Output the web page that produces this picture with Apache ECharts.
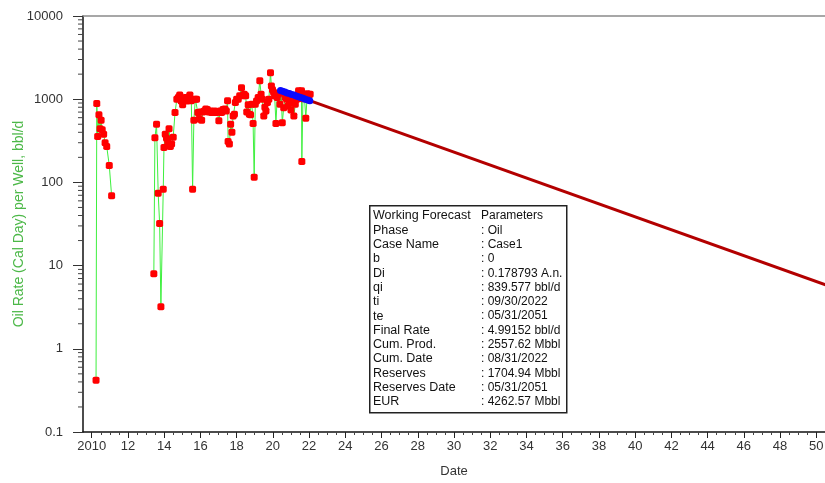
<!DOCTYPE html>
<html>
<head>
<meta charset="utf-8">
<script src="https://cdn.jsdelivr.net/npm/echarts@6/dist/echarts.min.js"></script>
<style>html,body{margin:0;padding:0;background:#fff;}#chart{width:825px;height:483px;}</style>
</head>
<body>
<div id="chart"></div>
<script>
// Historical monthly oil rate (decimal year, bbl/d); null = production gap
var histYears = [
2010.24,2010.28,2010.33,2010.40,2010.46,2010.52,2010.58,2010.66,2010.74,2010.83,2010.97,2011.10,
2012.00,
2013.43,2013.49,2013.58,2013.67,2013.75,2013.82,2013.95,2013.99,2014.06,2014.13,2014.20,2014.27,2014.34,2014.41,2014.50,2014.60,2014.70,2014.78,2014.86,2014.94,2015.02,2015.10,2015.18,2015.26,2015.34,2015.42,2015.50,2015.57,2015.64,2015.72,2015.79,2015.86,2015.94,
2016.00,2016.07,2016.14,2016.22,2016.30,2016.38,2016.46,2016.54,2016.62,2016.70,2016.78,2016.86,2016.94,
2017.02,2017.09,2017.17,2017.25,2017.35,2017.43,2017.50,2017.53,2017.60,2017.67,2017.74,2017.81,2017.88,2017.93,
2018.00,2018.09,2018.17,2018.27,2018.35,2018.42,2018.50,2018.56,2018.64,2018.70,2018.77,2018.84,2018.91,2018.97,
2019.03,2019.10,2019.19,2019.28,2019.35,2019.42,2019.50,2019.56,2019.62,2019.70,2019.78,2019.87,2019.92,2019.98,
2020.04,2020.10,2020.17,2020.24,2020.31,2020.39,2020.46,2020.52,2020.60,2020.68,2020.76,2020.84,2020.92,
2021.00,2021.08,2021.16,2021.24,2021.32,2021.42,2021.58,2021.60,2021.66,2021.74,2021.82,2021.90,2021.98,2022.06
];
var histRates = [
0.42,890,355,650,440,560,430,380,300,270,160,69,
null,
8,345,500,74,32,3.2,83,262,380,340,300,440,270,290,350,690,1000,1050,1120,950,860,1000,1050,950,1000,1120,960,83,560,1000,1000,690,580,
700,560,700,720,760,750,700,720,690,700,720,690,700,
550,720,690,750,760,720,960,310,290,500,400,630,660,910,
1000,1000,1100,1370,1100,1150,1100,700,860,660,650,870,510,115,
870,950,1050,1670,1150,1000,630,800,720,910,1000,2080,1440,1300,
1210,1100,510,1050,1150,870,1200,520,790,1050,1000,830,900,
740,1000,630,870,1000,1260,1260,178,1010,1100,590,1160,1100,1150,1000
];
// Points used in the fit (blue)
var fitYears = [2020.42,2020.54,2020.67,2020.79,2020.92,2021.04,2021.17,2021.29,2021.42,2021.54,2021.67,2021.79,2021.92,2022.04];
var fitRates = [1270,1250,1220,1190,1170,1140,1120,1090,1070,1050,1030,1000,980,960];
// Forecast line (start / end)
var fcYears = [2022.04, 2051.42];
var fcRates = [960, 4.99];

var xTickLabels = [2010,2012,2014,2016,2018,2020,2022,2024,2026,2028,2030,2032,2034,2036,2038,2040,2042,2044,2046,2048,2050];
var xMinorTicks = [2009.5,2010.5,2011,2011.5,2012.5,2013,2013.5,2014.5,2015,2015.5,2016.5,2017,2017.5,2018.5,2019,2019.5,2020.5,2021,2021.5,2022.5,2023,2023.5,2024.5,2025,2025.5,2026.5,2027,2027.5,2028.5,2029,2029.5,2030.5,2031,2031.5,2032.5,2033,2033.5,2034.5,2035,2035.5,2036.5,2037,2037.5,2038.5,2039,2039.5,2040.5,2041,2041.5,2042.5,2043,2043.5,2044.5,2045,2045.5,2046.5,2047,2047.5,2048.5,2049,2049.5,2050.5];
var yTickLabels = [0.1,1,10,100,1000,10000];
var yMinorTicks = [0.2,0.3,0.4,0.5,0.6,0.7,0.8,0.9,2,3,4,5,6,7,8,9,20,30,40,50,60,70,80,90,200,300,400,500,600,700,800,900,2000,3000,4000,5000,6000,7000,8000,9000];

var legendKeys = ['Working Forecast','Phase','Case Name','b','Di','qi','ti','te','Final Rate','Cum. Prod.','Cum. Date','Reserves','Reserves Date','EUR'];
var legendVals = ['Parameters',': Oil',': Case1',': 0',': 0.178793 A.n.',': 839.577 bbl/d',': 09/30/2022',': 05/31/2051',': 4.99152 bbl/d',': 2557.62 Mbbl',': 08/31/2022',': 1704.94 Mbbl',': 05/31/2051',': 4262.57 Mbbl'];

var X_MIN = 2009.52, X_MAX = 2050.48;

function zip(a, b) { var r = []; for (var i = 0; i < a.length; i++) r.push([a[i], b[i] == null ? '-' : b[i]]); return r; }

var FONT = 'Liberation Sans, Arial, sans-serif';
var graphics = [{
  type: 'rect', left: 369, top: 205, z: 100,
  shape: { width: 197, height: 207 },
  style: { fill: '#fff', stroke: '#222', lineWidth: 1.5 }
}];
for (var k = 0; k < legendKeys.length; k++) {
  var yy = 216 + k * 14.3;
  graphics.push({ type: 'text', x: 373, y: yy, z: 101, style: { text: legendKeys[k], fill: '#111', font: '12.5px ' + FONT, textVerticalAlign: 'middle' } });
  graphics.push({ type: 'text', x: 481, y: yy, z: 101, style: { text: legendVals[k], fill: '#111', font: '12px ' + FONT, textVerticalAlign: 'middle' } });
}

var minorData = yMinorTicks.map(function (v) { return [X_MIN, v]; });

var chart = echarts.init(document.getElementById('chart'), null, { renderer: 'canvas' });
chart.setOption({
  animation: false,
  backgroundColor: '#fff',
  grid: { left: 83, top: 16, right: 0, bottom: 51, outerBoundsMode: 'none', containLabel: false },
  xAxis: [{
    type: 'value', min: X_MIN, max: X_MAX,
    name: 'Date', nameLocation: 'middle', nameGap: 33, nameMoveOverlap: false,
    nameTextStyle: { color: '#333', fontSize: 13, fontFamily: FONT },
    axisLine: { onZero: false, lineStyle: { color: '#111', width: 1.5 } },
    axisTick: { customValues: xTickLabels, length: 6, lineStyle: { color: '#222' } },
    axisLabel: { customValues: xTickLabels, margin: 8, color: '#333', fontSize: 13, fontFamily: FONT,
      formatter: function (v) { return v === 2010 ? '2010' : String(Math.round(v) % 100); } },
    splitLine: { show: false }
  }, {
    type: 'value', min: X_MIN, max: X_MAX, position: 'bottom',
    axisLine: { show: false },
    axisTick: { customValues: xMinorTicks, length: 3, lineStyle: { color: '#444' } },
    axisLabel: { show: false }, splitLine: { show: false }
  }, {
    type: 'value', min: X_MIN, max: X_MAX, position: 'top',
    axisLine: { show: true, onZero: false, lineStyle: { color: '#8a8a8a', width: 1.5 } },
    axisTick: { show: false }, axisLabel: { show: false }, splitLine: { show: false }
  }],
  yAxis: [{
    type: 'log', logBase: 10, min: 0.1, max: 10000,
    name: 'Oil Rate (Cal Day) per Well, bbl/d', nameLocation: 'middle', nameGap: 57, nameMoveOverlap: false,
    nameTextStyle: { color: '#4cb848', fontSize: 14, fontFamily: FONT },
    axisLine: { show: true, lineStyle: { color: '#111', width: 1.5 } },
    axisTick: { customValues: yTickLabels, length: 10, lineStyle: { color: '#333' } },
    axisLabel: { customValues: yTickLabels, margin: 20, color: '#333', fontSize: 13, fontFamily: FONT,
      formatter: function (v) { return String(v); } },
    splitLine: { show: false }
  }],
  graphic: graphics,
  series: [{
    type: 'custom', data: minorData, clip: false, silent: true, z: 1,
    renderItem: function (params, api) {
      var p = api.coord([api.value(0), api.value(1)]);
      return { type: 'line', shape: { x1: p[0] - 5, y1: p[1], x2: p[0], y2: p[1] }, style: { stroke: '#444', lineWidth: 1 } };
    }
  }, {
    type: 'line', data: zip(histYears, histRates), connectNulls: false,
    lineStyle: { color: '#3ef03e', width: 1 },
    symbol: 'roundRect', symbolSize: [7, 7], itemStyle: { color: '#ff0000' }, z: 2
  }, {
    type: 'line', data: zip(fcYears, fcRates),
    lineStyle: { color: '#b30000', width: 3 }, symbol: 'none', z: 3
  }, {
    type: 'line', data: zip(fitYears, fitRates),
    lineStyle: { color: '#0000ff', width: 2 },
    symbol: 'circle', symbolSize: 7, itemStyle: { color: '#0a0aff' }, z: 4
  }]
});
</script>
</body>
</html>
